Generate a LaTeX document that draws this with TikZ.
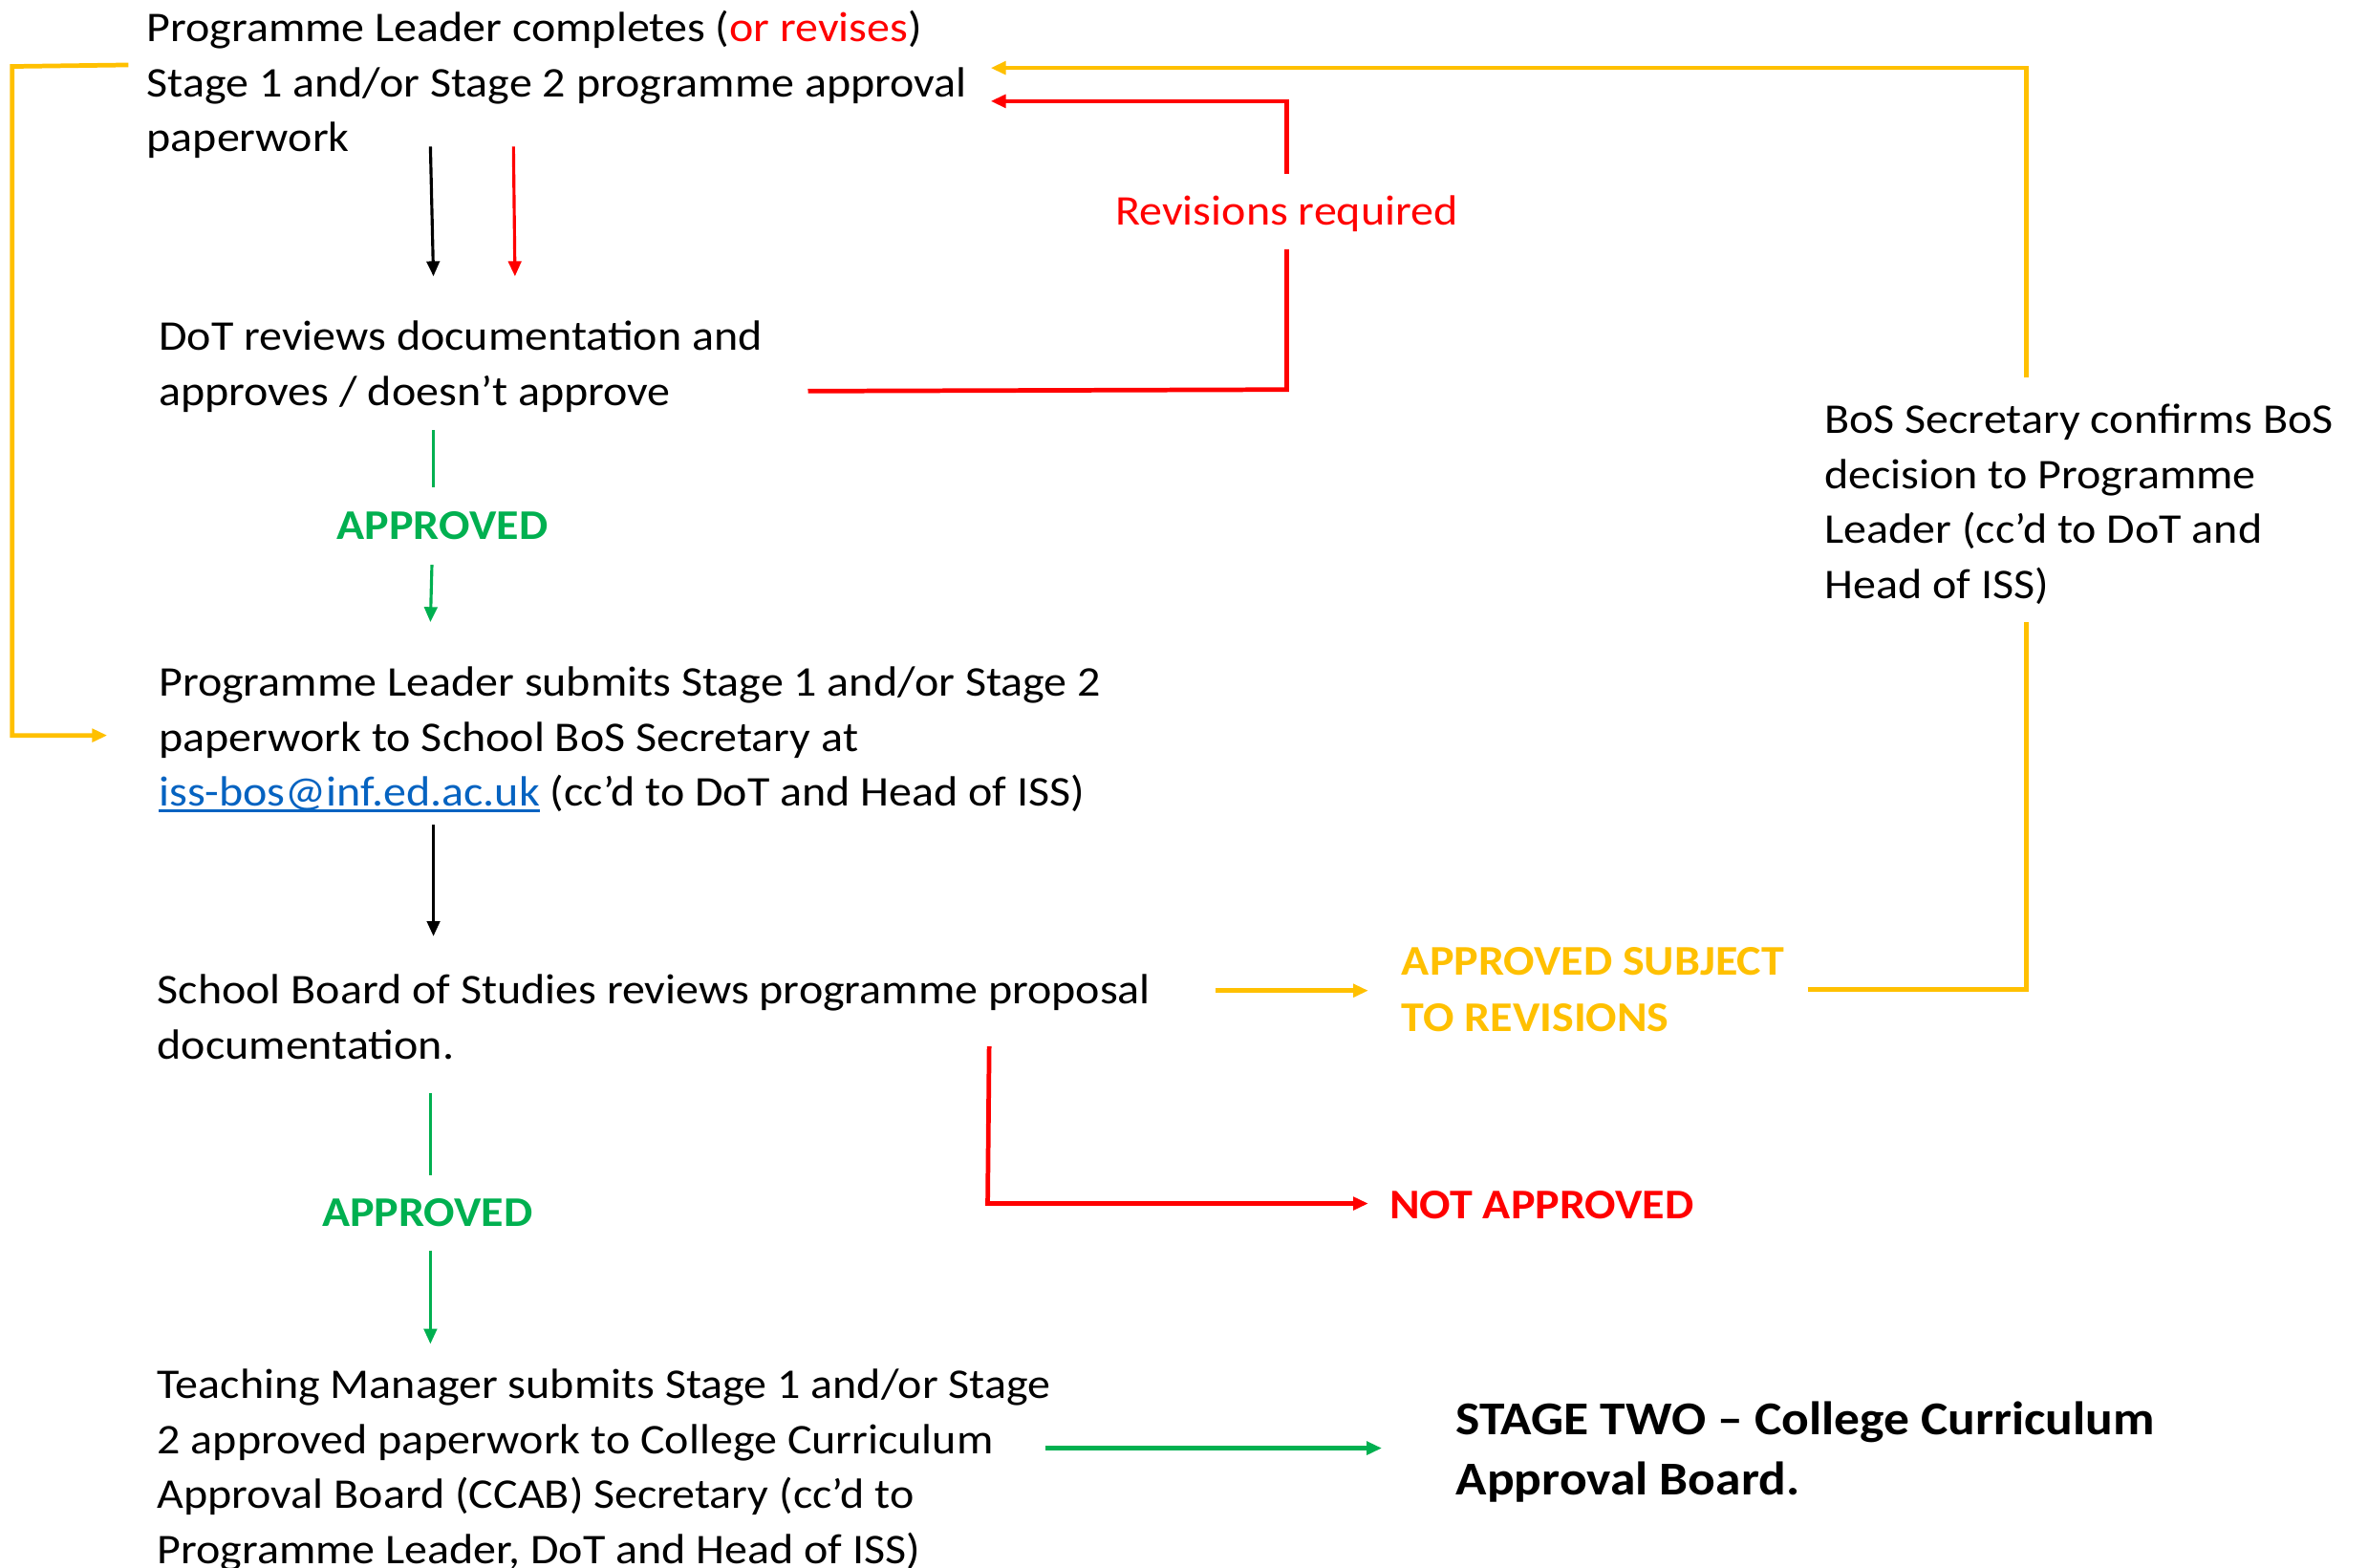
\documentclass[tikz,border=0pt]{standalone}
\usepackage{fontspec}
\setmainfont[FakeStretch=1.085]{Carlito}
\usetikzlibrary{arrows.meta}
\definecolor{cyel}{HTML}{FFC000}
\definecolor{cred}{HTML}{FF0000}
\definecolor{cgrn}{HTML}{00B050}
\definecolor{clink}{HTML}{0563C1}
\newcommand{\linkul}[1]{\setbox0\hbox{#1}\rlap{\rule[-4pt]{\wd0}{1.8pt}}\box0}
\newcommand{\blk}[1]{\begin{tabular}[t]{@{}l@{}}#1\end{tabular}}
\tikzset{
  txt/.style={anchor=base west, inner sep=0pt, font=\fontsize{28}{36.5}\selectfont},
  lbl/.style={anchor=base, inner sep=0pt, font=\fontsize{28}{36.5}\selectfont},
  bigtxt/.style={anchor=base west, inner sep=0pt, font=\fontsize{31.2}{40}\selectfont\bfseries},
  tipa/.style={-{Triangle[length=10pt,width=8.5pt]}},
  lw1/.style={line width=2pt},
  lw2/.style={line width=3pt},
}
\begin{document}
\begin{tikzpicture}[x=1pt,y=-1pt]
\useasboundingbox (0,0) rectangle (1568,1038);
\fill[white] (0,0) rectangle (1568,1038);

% text blocks
\node[txt] (plc) at (97,27.5) {\blk{Programme Leader completes (\textcolor{cred}{or revises})\\Stage 1 and/or Stage 2 programme approval\\paperwork}};
\node[txt] (dot) at (105,232) {\blk{DoT reviews documentation and\\approves / doesn’t approve}};
\node[txt] (pls) at (105,461) {\blk{Programme Leader submits Stage 1 and/or Stage 2\\paperwork to School BoS Secretary at\\\textcolor{clink}{\linkul{iss-bos@inf.ed.ac.uk}} (cc’d to DoT and Head of ISS)}};
\node[txt] (sbs) at (104,665) {\blk{School Board of Studies reviews programme proposal\\documentation.}};
\node[txt] (tms) at (104,926) {\blk{Teaching Manager submits Stage 1 and/or Stage\\2 approved paperwork to College Curriculum\\Approval Board (CCAB) Secretary (cc’d to\\Programme Leader, DoT and Head of ISS)}};
\node[txt] (bos) at (1208,287) {\blk{BoS Secretary confirms BoS\\decision to Programme\\Leader (cc’d to DoT and\\Head of ISS)}};

% labels
\node[lbl, text=cred] (rev) at (852,149) {Revisions required};
\node[lbl, text=cgrn, font=\fontsize{28}{36.5}\selectfont\bfseries] (ap1) at (293,357) {APPROVED};
\node[lbl, text=cgrn, font=\fontsize{28}{36.5}\selectfont\bfseries] (ap2) at (283,812) {APPROVED};
\node[txt, text=cyel, font=\fontsize{28}{37}\selectfont\bfseries] (asr) at (928,646) {\blk{APPROVED SUBJECT\\TO REVISIONS}};
\node[txt, text=cred, font=\fontsize{28}{36.5}\selectfont\bfseries] (nap) at (920,807) {NOT APPROVED};
\node[bigtxt] (st2) at (964,950) {\blk{STAGE TWO – College Curriculum\\Approval Board.}};

% coordinates
\coordinate (k1a) at (285,97);  \coordinate (k1b) at (287,183);
\coordinate (r1a) at (340,97);  \coordinate (r1b) at (341,183);
\coordinate (rfa) at (535,259); \coordinate (rfb) at (852,258); \coordinate (rfc) at (852,165);
\coordinate (rfd) at (852,115); \coordinate (rfe) at (852,67);  \coordinate (rff) at (656,67);
\coordinate (yta) at (1342,250); \coordinate (ytb) at (1342,45); \coordinate (ytc) at (656,45);
\coordinate (yba) at (1197,655); \coordinate (ybb) at (1342,655); \coordinate (ybc) at (1342,412);
\coordinate (yaa) at (805,656); \coordinate (yab) at (906,656);
\coordinate (yla) at (85,43); \coordinate (ylb) at (8,44); \coordinate (ylc) at (8,487); \coordinate (yld) at (71,487);
\coordinate (g1a) at (287,285); \coordinate (g1b) at (287,323);
\coordinate (g1c) at (286,374); \coordinate (g1d) at (285,412);
\coordinate (k2a) at (287,546); \coordinate (k2b) at (287,620);
\coordinate (g2a) at (285,724); \coordinate (g2b) at (285,778);
\coordinate (g2c) at (285,828); \coordinate (g2d) at (285,890);
\coordinate (r2a) at (655,693); \coordinate (r2b) at (654,797); \coordinate (r2c) at (906,797);
\coordinate (g3a) at (692,959); \coordinate (g3b) at (915,959);

% connectors
\draw[lw1, tipa, black] (k1a) -- (k1b);
\draw[lw1, tipa, cred] (r1a) -- (r1b);
\draw[lw2, cred] (rfa) -- (rfb) -- (rfc);
\draw[lw2, cred, tipa] (rfd) -- (rfe) -- (rff);
\draw[lw2, cyel, tipa] (yta) -- (ytb) -- (ytc);
\draw[lw2, cyel] (yba) -- (ybb) -- (ybc);
\draw[lw2, cyel, tipa] (yaa) -- (yab);
\draw[lw2, cyel, tipa] (yla) -- (ylb) -- (ylc) -- (yld);
\draw[lw1, cgrn] (g1a) -- (g1b);
\draw[lw1, cgrn, tipa] (g1c) -- (g1d);
\draw[lw1, tipa, black] (k2a) -- (k2b);
\draw[lw1, cgrn] (g2a) -- (g2b);
\draw[lw1, cgrn, tipa] (g2c) -- (g2d);
\draw[lw2, cred, tipa] (r2a) -- (r2b) -- (r2c);
\draw[lw2, cgrn, tipa] (g3a) -- (g3b);
\end{tikzpicture}
\end{document}
